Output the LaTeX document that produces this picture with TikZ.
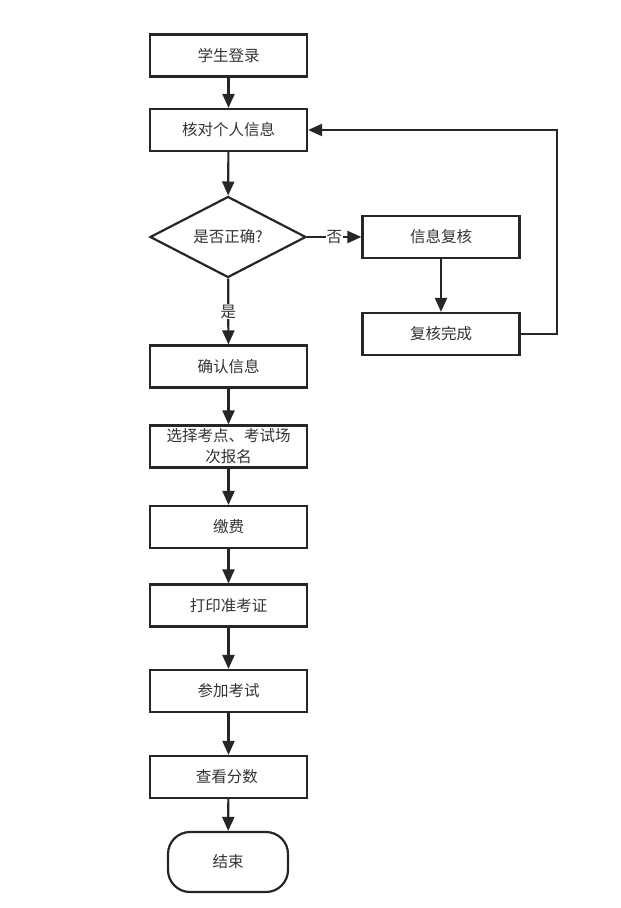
\documentclass[tikz,border=0pt]{standalone}
\usepackage{fontspec}
\newfontfamily\cjk{Noto Sans CJK SC}
\usetikzlibrary{positioning,shapes.geometric,arrows.meta}

\definecolor{linegray}{HTML}{262626}
\definecolor{textgray}{HTML}{333333}

\tikzset{
  stepbox/.style={draw=linegray, minimum width=157pt, minimum height=42pt,
    align=center, text=textgray, font=\cjk\fontsize{15.5}{21}\selectfont},
  choice/.style={draw=linegray, diamond, aspect=1.9, minimum width=156pt,
    minimum height=81pt, inner sep=0pt, text=textgray, font=\cjk\fontsize{15.5}{18}\selectfont},
  stopbox/.style={stepbox, minimum width=120pt, minimum height=60pt, rounded corners=22pt},
  flow/.style={draw=linegray, -{Triangle[length=14pt,width=12pt]}},
  tag/.style={fill=white, inner sep=1pt, text=textgray, font=\cjk\fontsize{15.5}{18}\selectfont},
}

\begin{document}
\begin{tikzpicture}[x=1pt, y=-1pt, line width=2.2pt]

% Page frame
\useasboundingbox (0,0) rectangle (621,908);

% Main column
\foreach \name/\ypos/\label in {
    login/55.5/学生登录,
    check/130/核对个人信息,
    confirm/366.5/确认信息,
    select/446.5/{选择考点、考试场\\次报名},
    pay/527/缴费,
    print/605.5/打印准考证,
    exam/691/参加考试,
    score/777/查看分数
  }
{
  \node[stepbox] (\name) at (228.5,\ypos) {\label};
}

% Decision
\node[choice] (decide) at (228,237) {是否正确?};

% Review branch
\node[stepbox] (verify) at (441,237) {信息复核};
\node[stepbox] (done) at (441,334) {复核完成};

% End
\node[stopbox] (finish) at (228,862) {结束};

% Straight connectors
\foreach \a/\b in {login/check, check/decide, confirm/select, select/pay,
    pay/print, print/exam, exam/score, score/finish, verify/done}
{
  \draw[flow] (\a) -- (\b);
}

% Labelled branches
\draw[flow] (decide) -- node[tag] {是} (confirm);
\draw[flow] (decide) -- node[tag] {否} (verify);

% Loop back
\draw[flow] (done.east) -- ++(36,0) |- (check.east);

\end{tikzpicture}
\end{document}
